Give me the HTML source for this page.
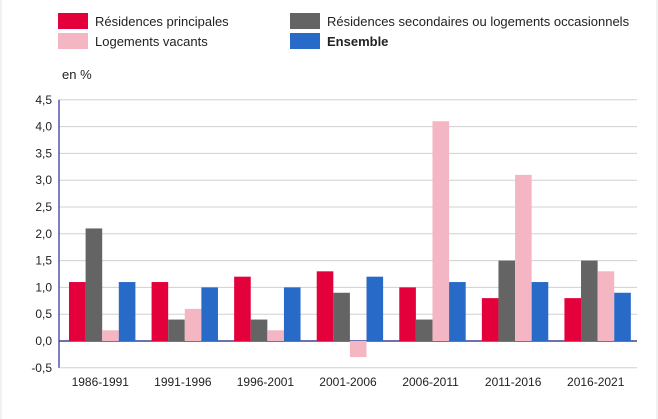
<!DOCTYPE html>
<html><head><meta charset="utf-8"><style>
body{margin:0;background:#fff;font-family:"Liberation Sans","DejaVu Sans",sans-serif;}
svg{display:block}
</style></head><body>
<svg width="658" height="419" id="c">
<rect x="1" y="-1" width="656" height="421" fill="none" stroke="#e3e3e3"/>
<g font-size="13" fill="#222">
<g><rect x="58" y="13" width="30" height="16" fill="#e4003b"/><text x="95" y="26">Résidences principales</text></g>
<g><rect x="58" y="33" width="30" height="16" fill="#f4b6c3"/><text x="95" y="46">Logements vacants</text></g>
<g><rect x="290" y="13" width="30" height="16" fill="#646464"/><text x="327" y="26">Résidences secondaires ou logements occasionnels</text></g>
<g><rect x="290" y="33" width="30" height="16" fill="#286ac7"/><text x="327" y="46" font-weight="bold">Ensemble</text></g>
</g>
<text x="62" y="79" font-size="13" fill="#222">en %</text>
<g id="grid"></g><g id="bars"></g><g id="axes"></g>
</svg>
<script>
const categories=["1986-1991","1991-1996","1996-2001","2001-2006","2006-2011","2011-2016","2016-2021"];
const residencesPrincipales=[1.1,1.1,1.2,1.3,1.0,0.8,0.8];
const residencesSecondaires=[2.1,0.4,0.4,0.9,0.4,1.5,1.5];
const logementsVacants=[0.2,0.6,0.2,-0.3,4.1,3.1,1.3];
const ensemble=[1.1,1.0,1.0,1.2,1.1,1.1,0.9];
const yTicks=[-0.5,0,0.5,1,1.5,2,2.5,3,3.5,4,4.5];
const ns="http://www.w3.org/2000/svg";
const X0=59,X1=637,Y0=341,U=53.6;
const y=v=>Y0-v*U;
const gw=(X1-X0)/categories.length;
const grid=document.getElementById('grid'),bars=document.getElementById('bars'),axes=document.getElementById('axes');
function mk(tag,at,p){const e=document.createElementNS(ns,tag);for(const k in at)e.setAttribute(k,at[k]);p.appendChild(e);return e;}
yTicks.forEach(t=>{
 const l=mk('line',{x1:X0,x2:X1,y1:y(t),y2:y(t),stroke:t===0?'#1a1a7a':'#d0d0d0','stroke-width':t===0?1.2:1},grid);
 
 
 const tx=mk('text',{x:X0-7,y:y(t)+4,'text-anchor':'end','font-size':12,fill:'#222'},axes);
 tx.textContent=t.toFixed(1).replace('.',',');
 
 
});
const al=mk('line',{x1:X0,x2:X0,y1:y(4.5),y2:y(-0.5),stroke:'#3a3aa0','stroke-width':1.3},axes);


const series=[[residencesPrincipales,'#e4003b','rp'],[residencesSecondaires,'#646464','rs'],[logementsVacants,'#f4b6c3','lv'],[ensemble,'#286ac7','ens']];
const bw=16.6;
categories.forEach((c,i)=>{
 const gx=X0+i*gw+10;
 series.forEach((s,j)=>{
  const v=s[0][i];
  const r=mk('rect',{x:gx+j*bw,y:Math.min(y(v),y(0)),width:bw,height:Math.abs(y(v)-y(0)),fill:s[1]},bars);
  
  
 });
 const t=mk('text',{x:X0+i*gw+gw/2,y:386,'text-anchor':'middle','font-size':12,fill:'#222'},axes);
 t.textContent=c;
 
 
});
</script>
</body></html>
